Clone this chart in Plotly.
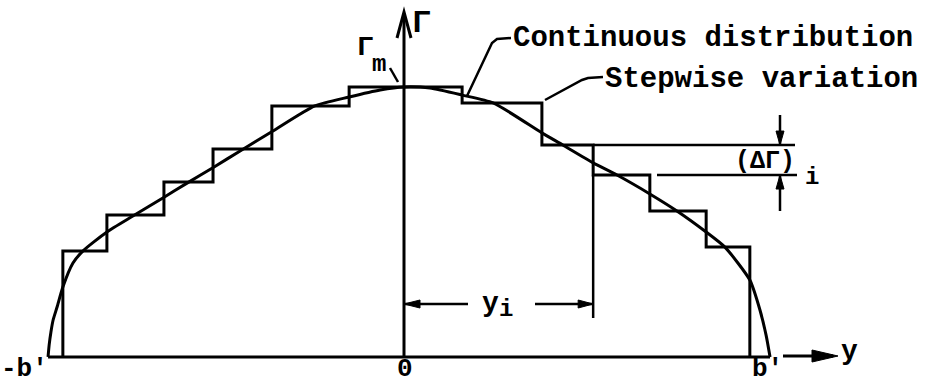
import plotly.graph_objects as go

# Spanwise station y/b' and circulation Gamma/Gamma_m of the continuous distribution
curve_y = [-0.986, -0.983, -0.978, -0.972, -0.961, -0.945, -0.917, -0.889, -0.823,
           -0.751, -0.668, -0.601, -0.526, -0.454, -0.363, -0.247, -0.152, -0.066,
           0.000, 0.072, 0.161, 0.247, 0.382, 0.440, 0.524, 0.590, 0.681, 0.756,
           0.837, 0.889, 0.958, 0.986, 1.003, 1.014]
curve_gamma = [0.000, 0.044, 0.093, 0.137, 0.185, 0.259, 0.348, 0.393, 0.463,
               0.522, 0.589, 0.644, 0.704, 0.763, 0.837, 0.930, 0.963, 0.989,
               1.000, 0.996, 0.970, 0.941, 0.830, 0.785, 0.719, 0.674, 0.604, 0.541,
               0.463, 0.407, 0.285, 0.174, 0.081, 0.000]

# Stepwise (horseshoe-vortex) approximation: station edges and constant level per strip
step_edges = [-0.945, -0.823, -0.665, -0.529, -0.366, -0.152,
              0.161, 0.382, 0.524, 0.681, 0.837, 0.958]
step_levels = [0.393, 0.526, 0.648, 0.770, 0.930, 1.000,
               0.941, 0.785, 0.674, 0.541, 0.407]

# Strip used to illustrate y_i and (ΔΓ)_i
i_strip = 8

FONT = "Liberation Mono"
INK = "black"
LW = 3


def at(px, py):
    """Canvas position (pixels) -> data coordinates."""
    return (px - 404) / 361, (357 - py) / 270


step_x, step_g = [step_edges[0]], [0.0]
for k, lvl in enumerate(step_levels):
    step_x += [step_edges[k], step_edges[k + 1]]
    step_g += [lvl, lvl]
step_x.append(step_edges[-1])
step_g.append(0.0)

fig = go.Figure()
fig.add_trace(go.Scatter(x=step_x, y=step_g, mode="lines",
                         line=dict(color=INK, width=LW), hoverinfo="skip"))
fig.add_trace(go.Scatter(x=curve_y, y=curve_gamma, mode="lines",
                         line=dict(color=INK, width=LW, shape="spline", smoothing=0.6),
                         hoverinfo="skip"))

shapes = []


def seg(p, q, w=LW):
    shapes.append(dict(type="line", x0=p[0], y0=p[1], x1=q[0], y1=q[1],
                       line=dict(color=INK, width=w), layer="above"))


def path(points, fill=False, w=LW):
    d = "M " + " L ".join(f"{x:.5f},{y:.5f}" for x, y in points)
    if fill:
        d += " Z"
    shapes.append(dict(type="path", path=d, line=dict(color=INK, width=w),
                       fillcolor=INK if fill else "rgba(0,0,0,0)", layer="above"))


# Gamma axis with open arrowhead
seg((0, 0), at(404, 14))
path([at(397, 38), at(404, 12), at(411, 38)], w=3)

# Span axis (baseline between tips) and separate y arrow
seg((curve_y[0], 0), (curve_y[-1], 0))
seg(at(783, 356), at(833, 356))
path([at(812, 350), at(838, 356), at(812, 362)], fill=True, w=1)

# y_i dimension
yi_x = step_edges[i_strip]
_, yi_lvl = at(0, 304)
seg((yi_x, step_levels[i_strip]), (yi_x, at(0, 318)[1]), w=2.5)
seg((0, yi_lvl), (at(468, 0)[0], yi_lvl), w=2.5)
seg((at(535, 0)[0], yi_lvl), (yi_x, yi_lvl), w=2.5)
path([(0, yi_lvl), at(420, 300), at(420, 308)], fill=True, w=1)
path([(yi_x, yi_lvl), (yi_x - 15 / 361, at(0, 300)[1]), (yi_x - 15 / 361, at(0, 308)[1])],
     fill=True, w=1)

# (ΔΓ)_i dimension
g_hi, g_lo = step_levels[i_strip - 1], step_levels[i_strip]
seg((yi_x, g_hi), (at(795, 0)[0], g_hi), w=2.5)
seg((at(657, 0)[0], g_lo), (at(797, 0)[0], g_lo), w=2.5)
dx = at(780, 0)[0]
seg((dx, at(0, 115)[1]), (dx, g_hi), w=2.5)
seg((dx, at(0, 211)[1]), (dx, g_lo), w=2.5)
path([(dx, g_hi), (dx - 4 / 361, g_hi + 14 / 270), (dx + 4 / 361, g_hi + 14 / 270)], fill=True, w=1)
path([(dx, g_lo), (dx - 4 / 361, g_lo - 14 / 270), (dx + 4 / 361, g_lo - 14 / 270)], fill=True, w=1)

# Leader lines
seg(at(390, 68), at(398, 82), w=2.5)
path([at(467, 96), at(492, 43), at(497, 39), at(511, 38)], w=2.5)
path([at(545, 100), at(582, 80), at(588, 78), at(603, 77)], w=2.5)

ann = []


def text(s, px, py, size=28, xanchor="center", yanchor="middle"):
    x, y = at(px, py)
    ann.append(dict(x=x, y=y, text=s, showarrow=False, xanchor=xanchor, yanchor=yanchor,
                    font=dict(family=FONT, size=size, color=INK, weight="bold")))


text("Γ", 421, 23, size=32)
text("Γ", 365, 47, size=28)
text("m", 379, 64, size=24)
text("Continuous distribution", 511, 38, size=29, xanchor="left")
text("Stepwise variation", 603, 79, size=29, xanchor="left")
text("(ΔΓ)", 765, 161, size=25)
text("i", 812, 177, size=24)
text("y", 490, 303, size=28)
text("i", 506, 309, size=24)
text("-b'", 50, 386, size=26, xanchor="right", yanchor="bottom")
text("0", 405, 386, size=26, yanchor="bottom")
text("b'", 767, 386, size=26, yanchor="bottom")
text("y", 849, 351, size=28)

x_lo, y_lo = at(0, 386)
x_hi, y_hi = at(934, 0)
fig.update_layout(
    width=934, height=386, margin=dict(l=0, r=0, t=0, b=0),
    paper_bgcolor="white", plot_bgcolor="white", showlegend=False,
    xaxis=dict(range=[x_lo, x_hi], visible=False, fixedrange=True),
    yaxis=dict(range=[y_lo, y_hi], visible=False, fixedrange=True),
    shapes=shapes, annotations=ann,
)
fig.write_html("out.html")
